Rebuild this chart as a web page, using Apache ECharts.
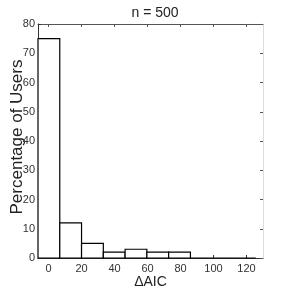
<!DOCTYPE html>
<html><head><meta charset="utf-8">
<script src="https://cdn.jsdelivr.net/npm/echarts@6/dist/echarts.min.js"></script>
<style>html,body{margin:0;padding:0;background:#fff}#c{width:291px;height:291px}</style>
</head><body><div id="c"></div>
<script>
var binEdges = [-6.4, 6.8, 20, 33.2, 46.4, 59.6, 72.8, 86, 99.2, 112.4, 125.6];
var percentages = [75, 12, 5, 2, 3, 2, 2, 0, 0, 0];
var xTicks = [0, 20, 40, 60, 80, 100, 120];
var yTicks = [0, 10, 20, 30, 40, 50, 60, 70, 80];
var titleText = 'n = 500';
var xName = '\u0394AIC';
var yName = 'Percentage of Users';

var data = percentages.map(function (p, i) { return [binEdges[i], binEdges[i + 1], p]; });
var font = 'Liberation Sans, Arial, sans-serif';
var chart = echarts.init(document.getElementById('c'));
chart.setOption({
  animation: false,
  title: { text: titleText, left: 150, top: 1, textAlign: 'center',
    textStyle: { fontFamily: font, fontSize: 14, fontWeight: 'normal', color: '#222' } },
  grid: { left: 38, right: 28, top: 24, bottom: 33, outerBoundsMode: 'none', containLabel: false },
  xAxis: [{
    type: 'value', min: -6.4, max: 130, position: 'bottom',
    name: xName, nameLocation: 'middle', nameGap: 17, nameMoveOverlap: false,
    nameTextStyle: { fontFamily: font, fontSize: 14, color: '#222' },
    axisLine: { show: true, onZero: false, lineStyle: { color: '#333', width: 1 } },
    axisTick: { show: true, inside: true, length: 3, customValues: xTicks, lineStyle: { color: '#333' } },
    axisLabel: { customValues: xTicks, fontFamily: font, fontSize: 11, color: '#333', margin: 5 },
    splitLine: { show: false }
  }, {
    type: 'value', min: -6.4, max: 130, position: 'top',
    axisLine: { show: true, onZero: false, lineStyle: { color: '#555', width: 1 } },
    axisTick: { show: true, inside: true, length: 3, customValues: xTicks, lineStyle: { color: '#555' } },
    axisLabel: { show: false }, splitLine: { show: false }
  }],
  yAxis: [{
    type: 'value', min: 0, max: 80, interval: 10, position: 'left',
    name: yName, nameLocation: 'middle', nameGap: 12, nameMoveOverlap: false,
    nameTextStyle: { fontFamily: font, fontSize: 17, color: '#222', padding: [0, 0, 0, 8] },
    axisLine: { show: true, onZero: false, lineStyle: { color: '#333', width: 1 } },
    axisTick: { show: true, inside: true, length: 3, lineStyle: { color: '#333' } },
    axisLabel: { fontFamily: font, fontSize: 11, color: '#333', margin: 3 },
    splitLine: { show: false }
  }, {
    type: 'value', min: 0, max: 80, interval: 10, position: 'right',
    axisLine: { show: true, onZero: false, lineStyle: { color: '#ddd', width: 1 } },
    axisTick: { show: true, inside: true, length: 3, lineStyle: { color: '#555' } },
    axisLabel: { show: false }, splitLine: { show: false }
  }],
  series: [{
    type: 'custom', xAxisIndex: 0, yAxisIndex: 0,
    renderItem: function (params, api) {
      var p0 = api.coord([api.value(0), 0]);
      var p1 = api.coord([api.value(1), api.value(2)]);
      return { type: 'rect',
        shape: { x: p0[0], y: p1[1], width: p1[0] - p0[0], height: p0[1] - p1[1] },
        style: { fill: '#fff', stroke: '#000', lineWidth: 1.2 } };
    },
    encode: { x: [0, 1], y: 2 },
    data: data
  }]
});
</script></body></html>
